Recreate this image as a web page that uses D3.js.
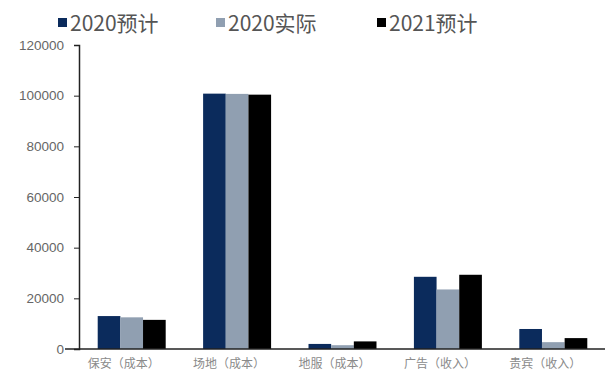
<!DOCTYPE html>
<html>
<head>
<meta charset="utf-8">
<script src="https://cdn.jsdelivr.net/npm/d3@7"></script>
<style>
  body { margin: 0; background: #fff; }
  svg { display: block; font-family: "Noto Sans CJK SC", "Liberation Sans", sans-serif; }
  .axis path, .axis line { stroke: #222; }
  .axis text { fill: #666; }
</style>
</head>
<body>
<div id="chart"></div>
<script>
// data
const categories = ["保安（成本）", "场地（成本）", "地服（成本）", "广告（收入）", "贵宾（收入）"];
const seriesNames = ["2020预计", "2020实际", "2021预计"];
const est2020 = [13000, 100800, 2000, 28500, 7900];
const act2020 = [12500, 100700, 1500, 23500, 2700];
const est2021 = [11500, 100400, 3000, 29300, 4300];
const yTicks = [0, 20000, 40000, 60000, 80000, 100000, 120000];

const colors = ["#0b2b5c", "#909fb1", "#000000"];
const seriesValues = [est2020, act2020, est2021];

const width = 605, height = 374;
const margin = {top: 45, right: 0, bottom: 25, left: 79};

const svg = d3.select("#chart").append("svg")
    .attr("width", width)
    .attr("height", height);

const x0 = d3.scaleBand()
    .domain(categories)
    .range([margin.left, width + 1])
    .paddingInner(0.355)
    .paddingOuter(0.1775);

const x1 = d3.scaleBand()
    .domain(d3.range(seriesNames.length))
    .range([0, x0.bandwidth()]);

const y = d3.scaleLinear()
    .domain([0, 120000])
    .range([height - margin.bottom, margin.top]);

// bars
const rows = categories.map((c, i) => ({cat: c, vals: seriesValues.map(s => s[i])}));

svg.append("g").selectAll("g")
    .data(rows)
    .join("g")
    .attr("transform", d => `translate(${x0(d.cat)},0)`)
    .selectAll("rect")
    .data(d => d.vals.map((v, k) => ({k, v})))
    .join("rect")
    .attr("x", d => x1(d.k))
    .attr("y", d => y(d.v))
    .attr("width", x1.bandwidth())
    .attr("height", d => y(0) - y(d.v))
    .attr("fill", d => colors[d.k]);

// y axis
const yAxis = svg.append("g")
    .attr("class", "axis")
    .attr("transform", `translate(${margin.left},0)`)
    .call(d3.axisLeft(y).tickValues(yTicks).tickFormat(d3.format("d")).tickSize(5).tickPadding(10));
yAxis.selectAll("text").style("font-size", "13.5px").style("font-family", "Liberation Sans, sans-serif");
yAxis.select(".domain").attr("stroke-width", 1.5);

// x axis line
svg.append("line")
    .attr("x1", margin.left - 14)
    .attr("x2", width)
    .attr("y1", y(0))
    .attr("y2", y(0))
    .attr("stroke", "#222")
    .attr("stroke-width", 1.5);

// x labels
svg.append("g").selectAll("text")
    .data(categories)
    .join("text")
    .attr("x", d => x0(d) + x0.bandwidth() / 2 - 8)
    .attr("y", height - 6)
    .attr("text-anchor", "middle")
    .attr("fill", "#8a8a8a")
    .style("font-size", "12px")
    .text(d => d);

// legend
const legendX = [58, 216, 377];
const legend = svg.append("g").selectAll("g")
    .data(seriesNames)
    .join("g")
    .attr("transform", (d, i) => `translate(${legendX[i]},0)`);

legend.append("rect")
    .attr("x", 0)
    .attr("y", 18)
    .attr("width", 9)
    .attr("height", 9)
    .attr("fill", (d, i) => colors[i]);

legend.append("text")
    .attr("x", 12)
    .attr("y", 31)
    .attr("fill", "#555")
    .style("font-size", "21px")
    .text(d => d);
</script>
</body>
</html>
